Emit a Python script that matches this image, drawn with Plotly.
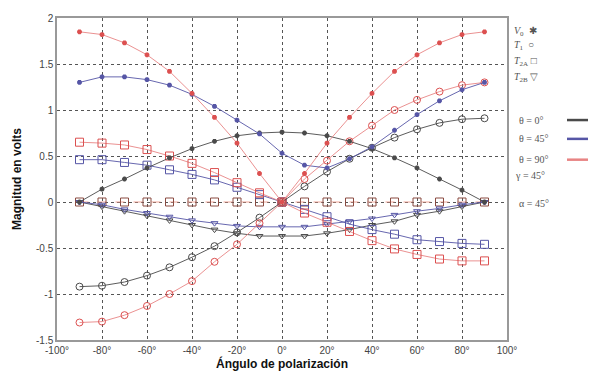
import plotly.graph_objects as go

angles = [-90, -80, -70, -60, -50, -40, -30, -20, -10, 0, 10, 20, 30, 40, 50, 60, 70, 80, 90]

# V0 (asterisk)
v0_t0 = [0.0, 0.14, 0.25, 0.37, 0.48, 0.58, 0.66, 0.72, 0.75, 0.76, 0.75, 0.72, 0.66, 0.58, 0.48, 0.37, 0.25, 0.13, 0.0]
v0_t45 = [1.30, 1.36, 1.36, 1.33, 1.27, 1.17, 1.04, 0.89, 0.74, 0.53, 0.40, 0.37, 0.47, 0.60, 0.78, 0.95, 1.10, 1.22, 1.30]
v0_t90 = [1.85, 1.82, 1.73, 1.60, 1.42, 1.18, 0.92, 0.64, 0.31, 0.0, 0.31, 0.64, 0.92, 1.18, 1.42, 1.60, 1.73, 1.82, 1.85]
# T1 (circle)
t1_t0 = [-0.92, -0.91, -0.87, -0.80, -0.71, -0.60, -0.48, -0.33, -0.17, 0.0, 0.17, 0.33, 0.47, 0.59, 0.70, 0.79, 0.86, 0.90, 0.91]
t1_t90 = [-1.31, -1.30, -1.23, -1.13, -1.00, -0.86, -0.65, -0.46, -0.23, 0.0, 0.25, 0.45, 0.66, 0.83, 1.00, 1.11, 1.20, 1.27, 1.30]
# T2A (square)
t2a_t0 = [0.0] * 19
t2a_t45 = [0.46, 0.46, 0.43, 0.40, 0.35, 0.30, 0.24, 0.16, 0.08, 0.0, -0.08, -0.16, -0.24, -0.30, -0.35, -0.41, -0.43, -0.45, -0.46]
t2a_t90 = [0.65, 0.64, 0.62, 0.57, 0.50, 0.42, 0.32, 0.21, 0.10, 0.0, -0.12, -0.22, -0.32, -0.42, -0.51, -0.57, -0.62, -0.64, -0.64]
# T2B (triangle)
t2b_t0 = [0.0, -0.05, -0.10, -0.15, -0.20, -0.25, -0.30, -0.34, -0.37, -0.37, -0.37, -0.34, -0.30, -0.25, -0.21, -0.14, -0.10, -0.05, 0.0]
t2b_t45 = [0.0, -0.03, -0.08, -0.12, -0.16, -0.20, -0.23, -0.26, -0.27, -0.27, -0.27, -0.24, -0.21, -0.18, -0.14, -0.10, -0.07, -0.03, 0.0]

x_ticks = [-100, -80, -60, -40, -20, 0, 20, 40, 60, 80, 100]
x_labels = ["-100°", "-80°", "-60°", "-40°", "-20°", "0°", "20°", "40°", "60°", "80°", "100°"]
y_ticks = [-1.5, -1, -0.5, 0, 0.5, 1, 1.5, 2]
y_labels = ["-1.5", "-1", "-0.5", "0", "0.5", "1", "1.5", "2"]

BLACK = "#4a4a4a"
BLUE = "#5656a6"
RED = "#e88484"
RED_M = "#dc5050"

fig = go.Figure()

def add(y, color, symbol, size, mcolor=None, dash="solid", lw=0.9, mlw=1.0, lcolor=None):
    fig.add_trace(go.Scatter(
        x=angles, y=y, mode="lines+markers",
        line=dict(color=lcolor or color, width=lw, dash=dash),
        marker=dict(symbol=symbol, size=size, color=mcolor or color,
                    line=dict(color=mcolor or color, width=mlw)),
        showlegend=False, hoverinfo="skip"))

add(t2a_t0, BLACK, "square-open", 8, mcolor="#8a4a40", dash="dash", lcolor="#ec9a8a")
add(t2b_t0, BLACK, "triangle-down-open", 6)
add(t2b_t45, BLUE, "triangle-down-open", 6)
add(t2a_t45, BLUE, "square-open", 8)
add(t2a_t90, RED, "square-open", 8, mcolor=RED_M)
add(t1_t0, BLACK, "circle-open", 7)
add(t1_t90, RED, "circle-open", 7, mcolor=RED_M)
add(v0_t0, BLACK, "asterisk-open", 4, mlw=1.8)
add(v0_t45, BLUE, "asterisk-open", 4, mlw=1.8)
add(v0_t90, RED, "asterisk-open", 4, mcolor=RED_M, mlw=1.8)

fig.update_xaxes(range=[-100, 100], tickvals=x_ticks, ticktext=x_labels,
                 showgrid=True, gridcolor="#555", griddash="dot", gridwidth=1,
                 zeroline=False, showline=True, mirror=True, linecolor="#999", linewidth=1.5,
                 ticks="", tickfont=dict(family="Liberation Sans", size=10, color="#444"),
                 title=dict(text="<b>Ángulo de polarización</b>", standoff=2,
                            font=dict(family="Liberation Sans", size=12, color="#111")))
fig.update_yaxes(range=[-1.5, 2], tickvals=y_ticks, ticktext=y_labels,
                 showgrid=True, gridcolor="#555", griddash="dot", gridwidth=1,
                 zeroline=False, showline=True, mirror=True, linecolor="#999", linewidth=1.5,
                 ticks="", tickfont=dict(family="Liberation Sans", size=10, color="#444"),
                 title=dict(text="<b>Magnitud en volts</b>", standoff=12,
                            font=dict(family="Liberation Sans", size=12, color="#111")))

legend_items = [
    ("<i>V</i><sub>0</sub>  ✱", 29),
    ("<i>T</i><sub>1</sub>  ○", 43),
    ("<i>T</i><sub>2A</sub> □", 59),
    ("<i>T</i><sub>2B</sub> ▽", 75),
    ("θ = 0°", 118),
    ("θ = 45°", 137),
    ("θ = 90°", 158),
    ("γ = 45°", 174),
    ("α = 45°", 202),
]
H = 325.0
annots = []
for i, (txt, py) in enumerate(legend_items):
    xpx = 512 if i < 4 else (517 if i < 7 else (513 if i == 7 else 517))
    annots.append(dict(text=txt, x=(xpx - 57) / 450.0, y=(340 - py) / H,
                       xref="paper", yref="paper", xanchor="left", yanchor="middle",
                       showarrow=False, font=dict(family="Liberation Serif", size=10, color="#555")))
fig.update_layout(annotations=annots)

line_colors = [BLACK, BLUE, RED]
line_ys = [118, 137, 158]
for c, py in zip(line_colors, line_ys):
    yy = (340 - py) / H
    fig.add_shape(type="line", xref="paper", yref="paper",
                  x0=(567 - 57) / 450.0, x1=(588 - 57) / 450.0, y0=yy, y1=yy,
                  line=dict(color=c, width=2.5))

fig.update_layout(width=597, height=379, margin=dict(l=57, r=90, t=15, b=39),
                  plot_bgcolor="white", paper_bgcolor="white")

fig.write_html("out.html")
